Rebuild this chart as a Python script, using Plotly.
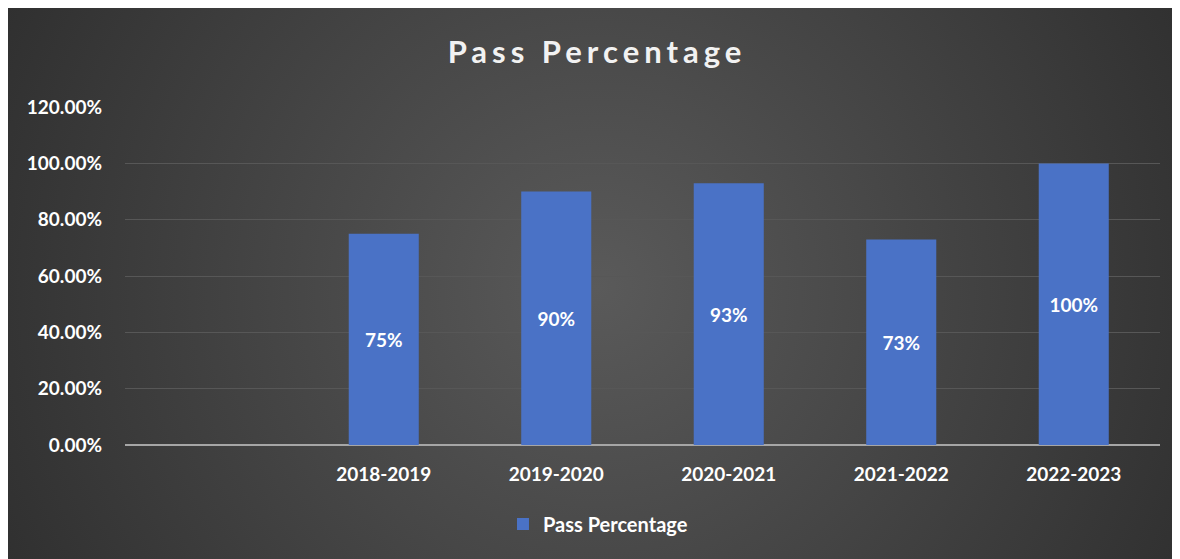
import base64
import plotly.graph_objects as go

categories = ["", "2018-2019", "2019-2020", "2020-2021", "2021-2022", "2022-2023"]
values = [None, 0.75, 0.90, 0.93, 0.73, 1.00]
labels = ["", "75%", "90%", "93%", "73%", "100%"]
ytick_vals = [0, 0.2, 0.4, 0.6, 0.8, 1.0, 1.2]
ytick_text = ["0.00%", "20.00%", "40.00%", "60.00%", "80.00%", "100.00%", "120.00%"]

FONT = "Lato, 'Open Sans', sans-serif"

W, H = 1180, 559
L, R, T, B = 117, 28, 99, 122
PW, PH = W - L - R, H - T - B

svg = f"""<svg xmlns='http://www.w3.org/2000/svg' width='{W}' height='{H}' viewBox='0 0 {W} {H}' preserveAspectRatio='none'>
<defs><radialGradient id='g' cx='50%' cy='50%' r='70%' gradientTransform='translate(0.5 0.5) scale(1 2.1) translate(-0.5 -0.5)'>
<stop offset='0%' stop-color='#5a5a5a'/><stop offset='100%' stop-color='#252525'/></radialGradient></defs>
<rect width='{W}' height='{H}' fill='url(#g)'/></svg>"""
svg_uri = "data:image/svg+xml;base64," + base64.b64encode(svg.encode()).decode()

xs = list(range(len(categories)))

fig = go.Figure()
fig.add_trace(go.Bar(
    x=xs, y=values, name="Pass Percentage",
    marker=dict(color="#4A72C6", line=dict(width=0)),
    width=0.406,
    text=labels, textposition="inside", insidetextanchor="middle",
    textangle=0,
    textfont=dict(family=FONT, size=19, color="white", weight="bold"),
    showlegend=True,
))

fig.update_layout(
    width=W, height=H,
    paper_bgcolor="#2a2a2a", plot_bgcolor="rgba(0,0,0,0)",
    margin=dict(l=L, r=R, t=T, b=B),
    title=dict(text="<span style='letter-spacing:5px;font-weight:bold'>Pass Percentage</span>",
               x=589 / W, xanchor="center", y=1 - 44 / H, yanchor="middle",
               font=dict(family=FONT, size=31, color="#F2F2F2", weight="bold")),
    images=[dict(source=svg_uri, xref="paper", yref="paper", x=-L / PW, y=1 + T / PH,
                 sizex=W / PW, sizey=H / PH, xanchor="left", yanchor="top",
                 sizing="stretch", layer="below")],
    xaxis=dict(tickmode="array", tickvals=xs, ticktext=categories, range=[-0.5, 5.5],
               showgrid=False, zeroline=False, showline=False, ticks="",
               ticklabelstandoff=16,
               tickfont=dict(family=FONT, size=19, color="white", weight="bold")),
    yaxis=dict(range=[0, 1.2005], tickvals=ytick_vals, ticktext=ytick_text,
               showgrid=True, gridcolor="#575757", gridwidth=1.3,
               zeroline=True, zerolinecolor="#A6A6A6", zerolinewidth=2,
               ticks="", ticklabelstandoff=22,
               tickfont=dict(family=FONT, size=19, color="white", weight="bold")),
    legend=dict(orientation="h", x=0.457, xanchor="center", y=-(516 - T - PH) / PH, yanchor="middle",
                font=dict(family=FONT, size=20, color="white", weight="bold"),
                bgcolor="rgba(0,0,0,0)", itemwidth=30),
)

fig.write_html("out.html")
